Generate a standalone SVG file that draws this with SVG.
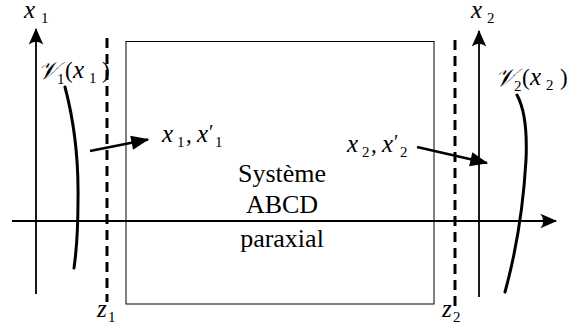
<svg xmlns="http://www.w3.org/2000/svg" width="571" height="333" viewBox="0 0 571 333">
<style>
.ax{stroke:#000;stroke-width:1.8;fill:none}
.box{stroke:#000;stroke-width:1;fill:none}
.dash{stroke:#000;stroke-width:3;stroke-dasharray:10 6;fill:none}
.crv{stroke:#000;stroke-width:3;fill:none;stroke-linecap:round}
.ray{stroke:#000;stroke-width:2.6;fill:none}
text{font-family:'Liberation Serif',serif;fill:#000}
.t{font-size:26px}
.m{font-style:italic;font-size:25px}
.s{font-size:15px}
.p{font-size:23px}
.q{font-size:20px}
</style>
<defs>
<marker id="ah" markerUnits="userSpaceOnUse" markerWidth="20" markerHeight="20" refX="0" refY="0" viewBox="-16 -8 18 16" orient="auto">
<path d="M1,0 L-14,-6.5 Q-9,0 -14,6.5 Z" fill="#000"/>
</marker>
<marker id="ah2" markerUnits="userSpaceOnUse" markerWidth="20" markerHeight="20" refX="0" refY="0" viewBox="-16 -8 18 16" orient="auto">
<path d="M1,0 L-15,-6.5 L-15,6.5 Z" fill="#000"/>
</marker>
</defs>
<g id="system">
<rect class="box" x="126" y="41.5" width="308" height="262.5"/>
<text class="t" x="282" y="182" text-anchor="middle">Système</text>
<text class="t" x="282" y="213" text-anchor="middle">ABCD</text>
<text class="t" x="282" y="247" text-anchor="middle">paraxial</text>
</g>
<g id="connectors">
<line class="ax" x1="12" y1="221" x2="556" y2="221" marker-end="url(#ah)"/>
<line class="ax" x1="36" y1="294" x2="36" y2="29" marker-end="url(#ah)"/>
<line class="ax" x1="479" y1="297" x2="479" y2="31" marker-end="url(#ah)"/>
<line class="dash" x1="107" y1="38" x2="107" y2="302"/>
<line class="dash" x1="455" y1="40" x2="455" y2="306"/>
<path class="crv" d="M65,87 Q79,140 78,200 Q78,240 74,268"/>
<path class="crv" d="M517,95 Q528,115 526,160 Q522,230 505,292"/>
<line class="ray" x1="90" y1="151" x2="148" y2="139.5" marker-end="url(#ah2)"/>
<line class="ray" x1="417" y1="147" x2="487" y2="163" marker-end="url(#ah2)"/>
</g>
<g id="axis-x1">
<text class="m" x="24" y="18">x</text><text class="s" x="41" y="23">1</text>
</g>
<g id="axis-x2">
<text class="m" x="471" y="18">x</text><text class="s" x="487" y="23">2</text>
</g>
<g id="label-V1">
<text class="m" x="38" y="79">𝒱</text><text class="s" x="57" y="84">1</text>
<text class="p" x="65" y="78">(</text><text class="m" x="73" y="78">x</text><text class="s" x="89" y="83">1</text><text class="p" x="102" y="78">)</text>
</g>
<g id="label-V2">
<text class="m" x="495" y="86">𝒱</text><text class="s" x="514" y="91">2</text>
<text class="p" x="522" y="85">(</text><text class="m" x="530" y="85">x</text><text class="s" x="546" y="90">2</text><text class="p" x="560" y="85">)</text>
</g>
<g id="label-in">
<text class="m" x="162" y="142">x</text><text class="s" x="177" y="147">1</text><text class="p" x="186" y="142">,</text>
<text class="m" x="197" y="142">x</text><text class="q" x="209" y="139">′</text><text class="s" x="215" y="147">1</text>
</g>
<g id="label-out">
<text class="m" x="347" y="152">x</text><text class="s" x="362" y="157">2</text><text class="p" x="371" y="152">,</text>
<text class="m" x="382" y="152">x</text><text class="q" x="394" y="149">′</text><text class="s" x="400" y="157">2</text>
</g>
<g id="label-z1">
<text class="m" x="97" y="317">z</text><text class="s" x="108" y="322">1</text>
</g>
<g id="label-z2">
<text class="m" x="442" y="317">z</text><text class="s" x="453" y="322">2</text>
</g>
</svg>
